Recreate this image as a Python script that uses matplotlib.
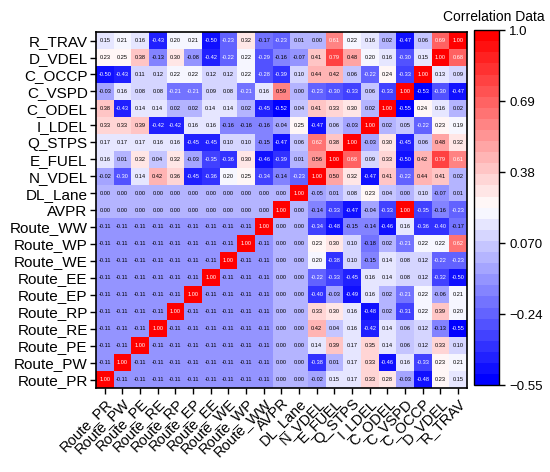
import numpy as np
import matplotlib.pyplot as plt
from matplotlib.colors import Normalize

plt.rcParams['font.family'] = ['Liberation Sans', 'DejaVu Sans']

# column order (left to right); rows are the same names, top to bottom reversed
columns = ['Route_PR', 'Route_PW', 'Route_PE', 'Route_RE', 'Route_RP', 'Route_EP',
           'Route_EE', 'Route_WE', 'Route_WP', 'Route_WW', 'AVPR', 'DL_Lane',
           'N_VDEL', 'E_FUEL', 'Q_STPS', 'I_LDEL', 'C_ODEL', 'C_VSPD', 'C_OCCP',
           'D_VDEL', 'R_TRAV']
rows = columns[::-1]

r_trav = [0.15, 0.21, 0.16, -0.43, 0.20, 0.21, -0.50, -0.23, 0.32, -0.17, -0.23, 0.01, 0.00, 0.61, 0.22, 0.16, 0.02, -0.47, 0.06, 0.69, 1.00]
d_vdel = [0.23, 0.25, 0.38, -0.13, 0.30, -0.08, -0.42, -0.22, 0.22, -0.29, -0.16, -0.07, 0.41, 0.79, 0.48, 0.20, 0.16, -0.30, 0.15, 1.00, 0.68]
c_occp = [-0.50, -0.43, 0.11, 0.12, 0.22, 0.22, 0.12, 0.12, 0.22, -0.28, -0.39, 0.10, 0.44, 0.42, 0.06, -0.22, 0.24, -0.33, 1.00, 0.13, 0.09]
c_vspd = [-0.03, 0.16, 0.08, 0.08, -0.21, -0.21, 0.09, 0.08, -0.21, 0.16, 0.59, 0.00, -0.23, -0.30, -0.33, 0.06, -0.33, 1.00, -0.53, -0.30, -0.47]
c_odel = [0.38, -0.43, 0.14, 0.14, 0.02, 0.02, 0.14, 0.14, 0.02, -0.45, -0.52, 0.04, 0.41, 0.33, 0.30, 0.02, 1.00, -0.55, 0.24, 0.16, 0.02]
i_ldel = [0.33, 0.33, 0.39, -0.42, -0.42, 0.16, 0.16, -0.16, -0.16, -0.16, -0.04, 0.25, -0.47, 0.06, -0.03, 1.00, 0.02, 0.05, -0.22, 0.23, 0.19]
q_stps = [0.17, 0.17, 0.17, 0.16, 0.16, -0.45, -0.45, 0.10, 0.10, -0.15, -0.47, 0.06, 0.62, 0.38, 1.00, -0.03, 0.30, -0.45, 0.06, 0.48, 0.32]
e_fuel = [0.16, 0.01, 0.32, 0.04, 0.32, -0.03, -0.35, -0.36, 0.30, -0.46, -0.39, 0.01, 0.56, 1.00, 0.68, 0.09, 0.33, -0.50, 0.42, 0.79, 0.61]
n_vdel = [-0.02, -0.30, 0.14, 0.42, 0.36, -0.45, -0.36, 0.20, 0.25, -0.34, -0.14, -0.23, 1.00, 0.50, 0.32, -0.47, 0.41, -0.22, 0.44, 0.41, 0.02]
dl_lane = [0.00, 0.00, 0.00, 0.00, 0.00, 0.00, 0.00, 0.00, 0.00, 0.00, 0.00, 1.00, -0.05, 0.01, 0.08, 0.23, 0.04, 0.00, 0.10, -0.07, 0.01]
avpr = [0.00, 0.00, 0.00, 0.00, 0.00, 0.00, 0.00, 0.00, 0.00, 0.00, 1.00, 0.00, -0.14, -0.33, -0.47, -0.04, -0.33, 1.00, -0.35, -0.16, -0.23]
route_ww = [-0.11, -0.11, -0.11, -0.11, -0.11, -0.11, -0.11, -0.11, -0.11, 1.00, 0.00, 0.00, -0.34, -0.48, -0.15, -0.14, -0.46, 0.16, -0.36, -0.40, -0.17]
route_wp = [-0.11, -0.11, -0.11, -0.11, -0.11, -0.11, -0.11, -0.11, 1.00, -0.11, 0.00, 0.00, 0.23, 0.30, 0.10, -0.18, 0.02, -0.21, 0.22, 0.22, 0.62]
route_we = [-0.11, -0.11, -0.11, -0.11, -0.11, -0.11, -0.11, 1.00, -0.11, -0.11, 0.00, 0.00, 0.20, -0.38, 0.10, -0.15, 0.14, 0.08, 0.12, -0.22, -0.23]
route_ee = [-0.11, -0.11, -0.11, -0.11, -0.11, -0.11, 1.00, -0.11, -0.11, -0.11, 0.00, 0.00, -0.22, -0.33, -0.45, 0.16, 0.14, 0.08, 0.12, -0.32, -0.50]
route_ep = [-0.11, -0.11, -0.11, -0.11, -0.11, 1.00, -0.11, -0.11, -0.11, -0.11, 0.00, 0.00, -0.40, -0.03, -0.49, 0.16, 0.02, -0.21, 0.22, -0.06, 0.21]
route_rp = [-0.11, -0.11, -0.11, -0.11, 1.00, -0.11, -0.11, -0.11, -0.11, -0.11, 0.00, 0.00, 0.33, 0.30, 0.16, -0.48, 0.02, -0.31, 0.22, 0.39, 0.20]
route_re = [-0.11, -0.11, -0.11, 1.00, -0.11, -0.11, -0.11, -0.11, -0.11, -0.11, 0.00, 0.00, 0.42, 0.04, 0.16, -0.42, 0.14, 0.06, 0.12, -0.13, -0.55]
route_pe = [-0.11, -0.11, 1.00, -0.11, -0.11, -0.11, -0.11, -0.11, -0.11, -0.11, 0.00, 0.00, 0.14, 0.39, 0.17, 0.35, 0.14, 0.06, 0.12, 0.33, 0.10]
route_pw = [-0.11, 1.00, -0.11, -0.11, -0.11, -0.11, -0.11, -0.11, -0.11, -0.11, 0.00, 0.00, -0.38, 0.01, 0.17, 0.33, -0.46, 0.16, -0.33, 0.23, 0.21]
route_pr = [1.00, -0.11, -0.11, -0.11, -0.11, -0.11, -0.11, -0.11, -0.11, -0.11, 0.00, 0.00, -0.02, 0.15, 0.17, 0.33, 0.28, -0.03, -0.48, 0.23, 0.15]

data = np.array([r_trav, d_vdel, c_occp, c_vspd, c_odel, i_ldel, q_stps, e_fuel,
                 n_vdel, dl_lane, avpr, route_ww, route_wp, route_we, route_ee,
                 route_ep, route_rp, route_re, route_pe, route_pw, route_pr])

vmin, vmax = -0.55, 1.0
cbar_ticks = [-0.55, -0.24, 0.07, 0.38, 0.69, 1.0]
cbar_labels = ['\u22120.55', '\u22120.24', '0.070', '0.38', '0.69', '1.0']

fig = plt.figure(figsize=(5.5, 4.72), dpi=100)
ax = fig.add_axes([0.1745, 0.178, 0.6745, 0.754])
cax = fig.add_axes([0.862, 0.184, 0.045, 0.752])

cmap = plt.get_cmap('bwr', 32)
im = ax.imshow(data, cmap=cmap, norm=Normalize(vmin, vmax), aspect='auto')

for i in range(data.shape[0]):
  for j in range(data.shape[1]):
    v = data[i, j]
    col = 'white' if (v < -0.2 or v > 0.6) else 'black'
    ax.text(j, i, f"{v:.2f}", ha='center', va='center', fontsize=4.1, color=col)

ax.set_xticks(np.arange(len(columns)))
ax.set_xticklabels(columns, rotation=45, ha='right', rotation_mode='anchor', fontsize=10.5)
ax.set_yticks(np.arange(len(rows)))
ax.set_yticklabels(rows, fontsize=11)
ax.tick_params(length=4, width=1, pad=2)
for s in ax.spines.values():
  s.set_linewidth(1.2)

cb = fig.colorbar(im, cax=cax, ticks=cbar_ticks)
cb.ax.set_yticklabels(cbar_labels, fontsize=9.5)
cb.outline.set_linewidth(1)
cb.ax.tick_params(length=4, width=1)
fig.text(0.99, 0.965, 'Correlation Data', ha='right', va='center', fontsize=10)

plt.savefig('out.png', dpi=100)
